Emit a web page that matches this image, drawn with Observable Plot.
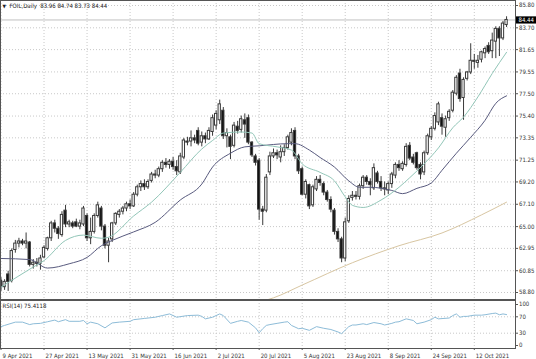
<!DOCTYPE html>
<html><head><meta charset="utf-8">
<script src="https://cdn.jsdelivr.net/npm/d3@7"></script>
<script src="https://cdn.jsdelivr.net/npm/@observablehq/plot@0.6"></script>
<style>
html,body{margin:0;padding:0;background:#fff;}
#chart svg{display:block;}
</style></head><body><div id="chart"></div>
<script>
const symbolName = "FOIL";
const timeframe = "Daily";
const open = [59.9,59.3,60.5,59.9,62.8,63.4,63.6,63.4,63.5,61.4,61.6,61.5,62.1,62.9,63.9,65.3,64.8,64.2,66.5,65.2,65.3,65.4,65.0,65.2,66.0,63.9,64.5,66.0,66.7,65.0,63.2,63.8,65.3,66.1,66.4,66.7,67.1,66.9,68.0,68.7,69.0,68.7,69.3,69.9,69.8,70.4,71.0,70.8,71.1,70.6,70.1,71.5,73.0,73.0,73.3,74.0,72.9,73.5,73.2,73.9,74.5,75.0,75.9,73.5,73.4,72.6,74.4,74.1,75.0,75.2,72.9,71.6,71.2,66.6,66.5,70.1,71.6,71.9,71.5,72.0,72.4,72.9,74.0,71.6,70.4,68.0,68.9,67.0,68.5,69.4,69.0,68.2,67.5,66.5,64.5,63.8,62.0,65.5,67.7,67.9,67.8,68.8,69.6,69.2,68.6,70.0,69.2,68.6,68.4,69.0,69.8,70.8,70.4,70.8,72.6,71.5,71.9,70.8,70.1,71.9,73.4,74.2,74.8,75.2,74.3,75.2,75.9,77.5,79.4,77.1,78.9,79.5,80.6,80.4,80.7,81.3,82.0,81.5,82.4,83.6,82.7,83.96];
const high = [60.2,60.0,60.8,62.9,63.7,63.9,63.8,64.4,63.6,61.9,62.0,62.3,63.2,64.0,65.5,65.6,65.0,66.4,67.0,65.6,65.5,65.7,65.6,66.9,66.2,65.8,66.2,67.3,66.9,65.2,63.9,65.4,66.3,66.6,66.9,67.3,67.5,68.2,68.9,69.3,69.4,69.4,70.1,70.3,70.6,71.2,71.4,71.3,71.5,71.2,71.9,73.3,73.4,74.0,73.6,74.3,73.9,73.8,74.3,75.5,75.9,76.9,76.2,74.2,73.6,74.8,74.9,75.4,75.6,75.5,73.0,71.8,71.4,66.9,69.9,72.0,72.3,72.2,72.6,72.7,73.6,74.2,74.3,71.8,70.6,69.4,69.0,68.9,69.7,69.8,69.2,68.4,67.8,66.7,64.8,64.0,65.8,67.9,68.3,68.3,69.0,69.8,69.8,69.5,70.9,70.2,69.7,69.2,69.2,70.1,71.0,71.2,71.1,72.8,72.9,71.8,72.0,71.0,72.1,73.7,74.4,75.7,76.7,75.6,75.4,76.0,77.8,79.2,79.8,79.0,79.6,82.2,81.2,81.1,81.5,81.9,82.3,83.2,83.8,83.8,84.3,84.74];
const low = [58.9,59.0,58.9,59.7,62.5,63.0,63.2,62.9,61.2,61.0,61.2,60.9,62.0,62.7,63.6,64.4,63.8,64.0,64.9,64.9,64.8,64.9,64.7,65.0,63.6,63.3,64.3,65.8,64.6,62.9,61.6,63.5,65.1,65.8,66.1,66.4,66.6,66.8,67.8,68.3,68.4,68.5,69.1,69.5,69.6,70.1,70.5,70.4,70.3,69.8,69.9,71.3,72.6,72.5,72.8,72.6,72.5,72.8,73.1,73.5,74.1,74.6,73.2,72.4,71.3,72.4,73.7,73.8,73.3,72.7,71.5,70.7,65.6,65.1,66.3,69.8,71.4,71.3,71.0,71.6,72.2,72.6,71.3,69.9,67.9,67.6,66.6,66.8,68.3,68.8,67.9,67.3,66.3,64.2,63.5,61.6,61.7,65.3,67.4,67.5,67.5,68.5,68.9,67.9,68.4,69.0,68.3,67.9,68.0,68.6,69.5,70.2,70.2,70.6,71.2,70.8,70.3,69.4,69.8,71.7,73.1,74.0,74.5,73.6,73.4,74.9,75.7,77.3,76.7,75.0,78.7,79.3,79.8,79.9,80.4,80.8,81.2,80.8,80.8,81.0,82.5,83.73];
const close = [59.3,59.8,59.8,62.7,63.4,63.6,63.4,63.6,61.4,61.6,61.5,62.0,63.0,63.9,65.3,64.8,64.3,66.1,65.2,65.4,65.0,65.0,65.3,66.7,63.9,64.5,66.0,67.0,65.0,63.2,63.6,65.3,66.2,66.4,66.7,67.1,66.9,68.0,68.7,69.0,68.7,69.2,69.9,69.8,70.4,71.0,70.8,71.1,70.6,70.2,71.6,73.1,72.9,73.3,73.1,72.8,73.5,73.2,74.0,75.2,75.6,76.5,73.5,73.8,72.5,74.5,74.0,75.1,74.6,72.9,71.7,71.0,66.6,66.4,69.6,71.6,71.9,71.7,72.0,72.4,73.4,73.8,71.6,70.2,68.0,69.2,66.9,68.7,69.4,69.1,68.2,67.5,66.6,64.5,63.8,62.0,65.4,67.6,67.9,67.8,68.8,69.6,69.2,68.9,70.5,69.2,68.6,68.5,69.0,69.9,70.8,70.5,70.9,72.5,71.4,71.0,70.5,69.9,71.9,73.5,74.2,75.4,76.5,74.4,75.1,75.8,77.6,79.0,77.0,78.8,79.5,80.6,80.5,80.6,81.4,81.7,81.4,82.5,83.6,82.7,84.1,84.44];

const fastIdx = [0,9,12,18,23,28,30,37,42,50,56,59,62,67,70,72,77,81,84,89,93,96,98,101,106,111,114,118,122,126,129,133,137,141];
const fastVal = [59.3,61.2,61.8,63.7,64.2,63.9,64.0,66.0,67.3,70.1,72.3,73.1,73.8,73.9,73.8,72.8,72.5,72.2,70.9,70.1,69.3,67.8,67.0,66.8,67.5,68.7,69.6,70.9,72.4,74.3,75.3,77.2,79.4,81.4];
const slowIdx = [0,8,13,19,24,28,31,37,43,50,56,59,64,68,72,80,82,86,89,93,97,100,103,109,112,116,120,123,127,131,135,138,141];
const slowVal = [62.0,61.9,61.1,61.5,62.1,63.2,63.7,64.5,65.4,67.5,69.0,70.6,71.9,72.5,72.6,72.8,72.8,72.2,71.5,70.6,69.3,68.7,68.7,68.4,68.1,68.6,69.1,70.3,71.9,73.4,75.0,76.6,77.3];
const longIdx = [72,76,84,98,111,123,134,141];
const longVal = [57.9,58.3,59.5,61.6,63.2,64.4,66.1,67.3];

const rsiIdx = [0,1,4,6,8,9,11,13,15,16,18,19,22,23,24,25,27,29,31,33,36,37,40,43,45,47,49,52,55,56,57,59,61,62,64,66,67,69,71,72,73,74,75,77,79,80,81,83,84,86,88,90,92,94,95,97,98,99,101,102,104,106,107,109,110,111,113,115,116,118,120,121,122,125,126,127,128,129,130,132,134,135,137,138,139,140,141];
const rsiVal = [46,49,57,57,51,53,54,58,62,58,63,59,59,61,53,57,53,43,55,57,59,63,66,69,73,77,69,73,74,71,65,69,77,73,54,59,61,57,43,31,41,49,51,54,57,58,49,41,42,37,46,42,39,33,29,46,50,50,53,51,56,53,50,54,57,58,65,61,53,57,63,69,65,67,73,77,69,71,71,74,74,75,78,79,75,77,75.4];
const rsiPeriod = 14;
const rsiLast = 75.4118;

const dateTickIdx = [0,12,24,36,48,60,72,84,96,108,120,132];
const dateTickLabels = ["9 Apr 2021","27 Apr 2021","13 May 2021","31 May 2021","16 Jun 2021","2 Jul 2021","20 Jul 2021","5 Aug 2021","23 Aug 2021","8 Sep 2021","24 Sep 2021","12 Oct 2021"];
const priceTicks = [85.80,83.70,81.65,79.55,77.50,75.40,73.35,71.25,69.20,67.10,65.00,62.95,60.85,58.80];
const rsiTicks = [0,30,70,100];
const rsiLevels = [30,70];

const bars = close.map((c,i)=>({i, o:open[i], h:high[i], l:low[i], c}));
const fast = fastIdx.map((i,k)=>({i, v:fastVal[k]}));
const slow = slowIdx.map((i,k)=>({i, v:slowVal[k]}));
const long = longIdx.map((i,k)=>({i, v:longVal[k]}));
const rsi = rsiIdx.map((i,k)=>({i, v:rsiVal[k]}));
const last = bars[bars.length-1];

const FONT = '"DejaVu Sans Condensed","DejaVu Sans",sans-serif';
const W = 536;
const xOpts = {type:"linear", domain:[0,132], range:[0.5,473.8]};
const gridStyle = {stroke:"#c8c8c8", strokeOpacity:1, strokeDasharray:"1,2"};
const boxSym = {draw(ctx){ ctx.rect(-10,-3.6,20,7.2); }};

const main = Plot.plot({
  width:W, height:300, marginTop:0, marginBottom:1, marginLeft:0, marginRight:21,
  style:{fontFamily:FONT, fontSize:"6px", background:"white", color:"#222"},
  x:{...xOpts, axis:null},
  y:{domain:[58.80,85.80], range:[292,5], axis:null},
  marks:[
    Plot.gridX(dateTickIdx, gridStyle),
    Plot.gridY(priceTicks, gridStyle),
    Plot.ruleY([last.c], {stroke:"#c0c0c0"}),
    Plot.ruleX(bars, {x:"i", y1:"l", y2:"h", stroke:"#3a3a3a", strokeWidth:1, clip:true}),
    Plot.rect(bars, {x1:d=>d.i-0.32, x2:d=>d.i+0.32, y1:"o", y2:"c", fill:d=>d.c>=d.o?"white":"#111", stroke:"#3a3a3a", strokeWidth:1, clip:true}),
    Plot.line(long, {x:"i", y:"v", stroke:"#d8c6a2", strokeWidth:1, curve:"monotone-x", clip:true}),
    Plot.line(slow, {x:"i", y:"v", stroke:"#585a7e", strokeWidth:1, curve:"monotone-x", clip:true}),
    Plot.line(fast, {x:"i", y:"v", stroke:"#92c6b8", strokeWidth:1, curve:"monotone-x", clip:true}),
    Plot.frame({stroke:"#555"}),
    Plot.axisY(priceTicks, {anchor:"right", tickSize:2, tickPadding:1.5, tickFormat:d=>d.toFixed(2), fontSize:6, label:null, stroke:"#555", fill:"#333"}),
    Plot.dot([last.c], {y:d=>d, frameAnchor:"right", dx:10.5, symbol:boxSym, fill:"black", stroke:"none"}),
    Plot.text([last.c], {y:d=>d, frameAnchor:"right", dx:3, textAnchor:"start", text:d=>d.toFixed(2), fill:"white", fontSize:6}),
    Plot.text(["\u25BC"], {frameAnchor:"top-left", dx:2, dy:6, textAnchor:"start", lineAnchor:"middle", fontSize:5, fill:"#222"}),
    Plot.text([`${symbolName},${timeframe}  ${last.o.toFixed(2)} ${last.h.toFixed(2)} ${last.l.toFixed(2)} ${last.c.toFixed(2)}`], {frameAnchor:"top-left", dx:9, dy:6, textAnchor:"start", lineAnchor:"middle", fontSize:6, fill:"#222"})
  ]
});

const rsiPlot = Plot.plot({
  width:W, height:59, marginTop:0, marginBottom:11, marginLeft:0, marginRight:21,
  style:{fontFamily:FONT, fontSize:"6px", background:"white", color:"#222"},
  x:{...xOpts, axis:null},
  y:{domain:[0,100], range:[45,4], axis:null},
  marks:[
    Plot.gridX(dateTickIdx, gridStyle),
    Plot.ruleY(rsiLevels, gridStyle),
    Plot.line(rsi, {x:"i", y:"v", stroke:"#8dbcd8", strokeWidth:1, clip:true}),
    Plot.frame({stroke:"#555"}),
    Plot.axisY(rsiTicks, {anchor:"right", tickSize:2, tickPadding:1.5, fontSize:6, label:null, stroke:"#555", fill:"#333"}),
    Plot.axisX(dateTickIdx, {anchor:"bottom", tickSize:2, fill:"none", stroke:"#555", label:null}),
    Plot.axisX(dateTickIdx, {anchor:"bottom", tickSize:0, tickPadding:5.5, dx:1.5, textAnchor:"start", tickFormat:(d,k)=>dateTickLabels[dateTickIdx.indexOf(d)], fontSize:6, fill:"#333", label:null}),
    Plot.text([`RSI(${rsiPeriod}) ${rsiLast}`], {frameAnchor:"top-left", dx:2, dy:5.5, textAnchor:"start", lineAnchor:"middle", fontSize:6, fill:"#222"})
  ]
});

document.getElementById("chart").append(main, rsiPlot);
</script></body></html>
